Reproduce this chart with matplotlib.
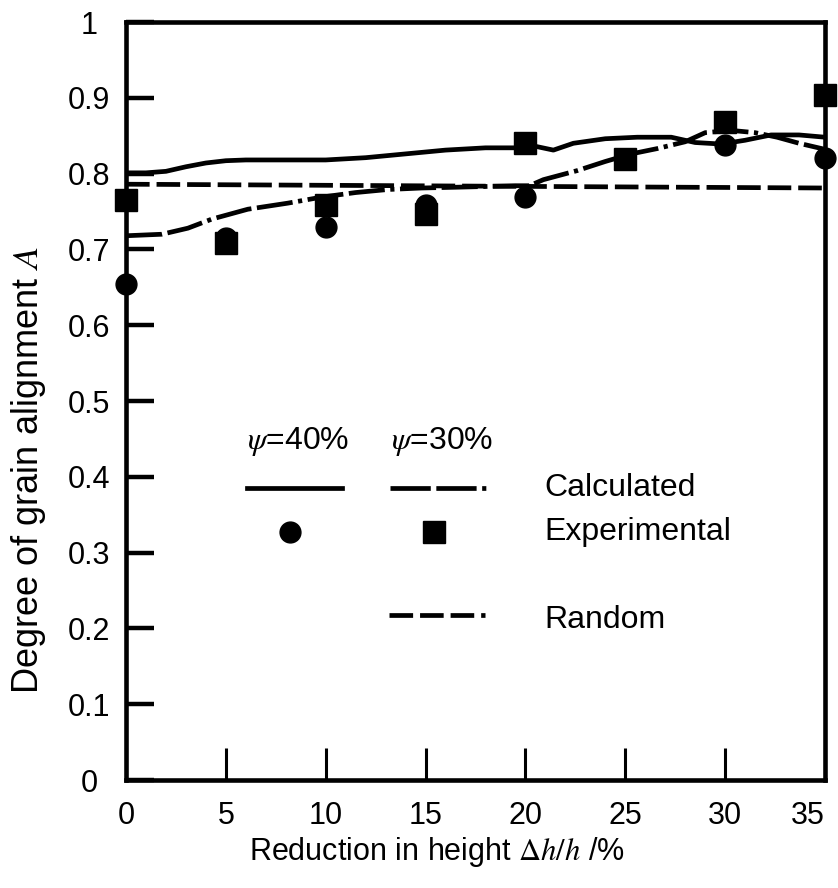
import matplotlib
matplotlib.use("Agg")
import matplotlib.pyplot as plt
from matplotlib import font_manager

# --- data ---------------------------------------------------------------
# Calculated alignment, psi = 40 %
calc40_x = [0, 1, 2, 3, 4, 5, 6, 8, 10, 12, 14, 16, 18, 19.5, 20.5, 21.4,
            22.4, 24, 25.6, 27.3, 28.5, 29.8, 31, 32.3, 33.7, 35]
calc40_y = [0.801, 0.801, 0.803, 0.809, 0.814, 0.817, 0.818, 0.818, 0.818,
            0.821, 0.826, 0.831, 0.834, 0.834, 0.836, 0.831, 0.840, 0.846,
            0.848, 0.848, 0.841, 0.839, 0.844, 0.851, 0.851, 0.848]

# Calculated alignment, psi = 30 %
calc30_x = [0, 1.8, 3.1, 4.3, 6.1, 8.1, 9.8, 11.5, 13.1, 14.8, 16.5, 18,
            19.5, 20.2, 20.9, 22.6, 24.0, 25.3, 26.6, 28.0, 29.0, 30.3, 31.5,
            32.6, 33.7, 35]
calc30_y = [0.718, 0.720, 0.728, 0.740, 0.753, 0.761, 0.769, 0.775, 0.779,
            0.781, 0.782, 0.783, 0.784, 0.784, 0.792, 0.804, 0.816, 0.826,
            0.833, 0.842, 0.854, 0.857, 0.854, 0.848, 0.840, 0.832]

# Random orientation reference
random_x = [0, 35]
random_y = [0.786, 0.781]

# Experimental points
exp40_x = [0, 5, 10, 15, 20, 30, 35]
exp40_y = [0.654, 0.715, 0.730, 0.758, 0.769, 0.838, 0.821]
exp30_x = [0, 5, 10, 15, 20, 25, 30, 35]
exp30_y = [0.765, 0.708, 0.759, 0.747, 0.841, 0.819, 0.868, 0.904]

x_ticks = [0, 5, 10, 15, 20, 25, 30, 35]
y_ticks = [0, 0.1, 0.2, 0.3, 0.4, 0.5, 0.6, 0.7, 0.8, 0.9, 1.0]
y_tick_labels = ["0", "0.1", "0.2", "0.3", "0.4", "0.5", "0.6", "0.7",
                 "0.8", "0.9", "1"]

# --- fonts --------------------------------------------------------------
installed = {f.name for f in font_manager.fontManager.ttflist}
families = [f for f in ["Liberation Sans Narrow", "Liberation Sans", "DejaVu Sans"]
            if f in installed]
plt.rcParams["font.family"] = families
plt.rcParams["mathtext.fontset"] = "stix"
plt.rcParams["lines.scale_dashes"] = False

KEY = 23

fig = plt.figure(figsize=(8.38, 8.88), dpi=100)
ax = fig.add_axes([126 / 838, 108 / 888, 699 / 838, 758 / 888])

lw = 3.4
dashdot = (0, (26, 4, 26, 4, 3, 4))
dashed = (0, (17, 5))

ax.plot(calc40_x, calc40_y, color="black", lw=lw, solid_joinstyle="round",
        solid_capstyle="butt", zorder=3)
ax.plot(calc30_x, calc30_y, color="black", lw=lw, linestyle=dashdot,
        dash_joinstyle="round", zorder=3)
ax.plot(random_x, random_y, color="black", lw=lw, linestyle=dashed, zorder=3)

ax.plot(exp40_x, exp40_y, linestyle="none", marker="o", ms=15,
        color="black", clip_on=False, zorder=5)
ax.plot(exp30_x, exp30_y, linestyle="none", marker="s", ms=16,
        color="black", clip_on=False, zorder=5)

ax.set_xlim(0, 35)
ax.set_ylim(0, 1)
ax.set_xticks(x_ticks)
ax.set_xticklabels([str(v) for v in x_ticks])
ax.set_yticks(y_ticks)
ax.set_yticklabels(y_tick_labels)

for s in ax.spines.values():
    s.set_linewidth(3.3)
ax.tick_params(axis="x", direction="in", length=23, width=2.2, pad=15,
               labelsize=22, top=False)
ax.tick_params(axis="y", direction="in", length=20, width=3.2, pad=26.5,
               labelsize=22, right=False)

# y tick labels are centred in their column; the last x label sits inside
for lbl in ax.get_yticklabels():
    lbl.set_horizontalalignment("center")
ax.get_xticklabels()[-1].set_horizontalalignment("right")

ax.set_xlabel(r"Reduction in height $\Delta h/h$ /%", fontsize=22)
ax.xaxis.set_label_coords(0.445, -0.072)
ax.set_ylabel(r"Degree of grain alignment $A$", fontsize=26)
ax.yaxis.set_label_coords(-0.112, 0.409)

# --- key --------------------------------------------------------------------
tA = ax.transAxes
ax.text(0.246, 0.446, r"$\psi$=40%", transform=tA, fontsize=KEY,
        ha="center", va="center")
ax.text(0.453, 0.446, r"$\psi$=30%", transform=tA, fontsize=KEY,
        ha="center", va="center")
ax.plot([0.173, 0.309], [0.385, 0.385], transform=tA, color="black", lw=lw)
ax.plot([0.378, 0.516], [0.385, 0.385], transform=tA, color="black", lw=lw,
        linestyle=(0, (29, 4, 29, 4, 3, 4)))
ax.plot([0.235], [0.327], transform=tA, marker="o", ms=15, color="black")
ax.plot([0.441], [0.327], transform=tA, marker="s", ms=16, color="black")
ax.plot([0.376, 0.514], [0.218, 0.218], transform=tA, color="black", lw=lw,
        linestyle=dashed)
ax.text(0.599, 0.385, "Calculated", transform=tA, fontsize=KEY,
        ha="left", va="center")
ax.text(0.599, 0.327, "Experimental", transform=tA, fontsize=KEY,
        ha="left", va="center")
ax.text(0.599, 0.211, "Random", transform=tA, fontsize=KEY,
        ha="left", va="center")

fig.savefig("out.png", dpi=100)
